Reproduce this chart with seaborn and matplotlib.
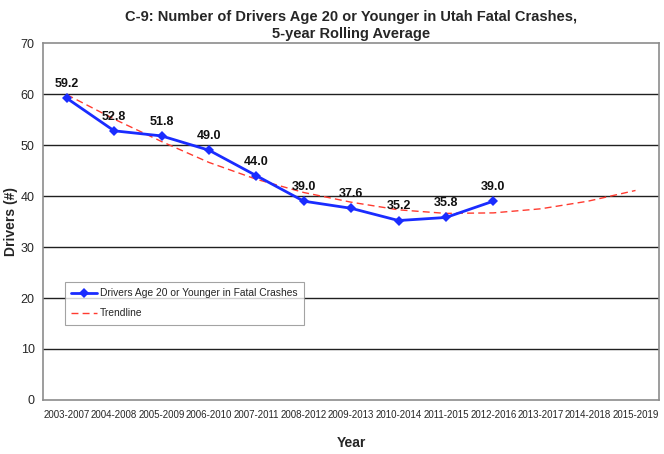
import matplotlib
matplotlib.use("Agg")
import matplotlib.pyplot as plt
import numpy as np
import pandas as pd
import seaborn as sns

# 5-year rolling windows shown on the x axis
periods = ["2003-2007", "2004-2008", "2005-2009", "2006-2010", "2007-2011",
           "2008-2012", "2009-2013", "2010-2014", "2011-2015", "2012-2016",
           "2013-2017", "2014-2018", "2015-2019"]
# observed values (first 10 periods)
drivers = [59.2, 52.8, 51.8, 49.0, 44.0, 39.0, 37.6, 35.2, 35.8, 39.0]
# trendline
trend = [59.9, 55.1, 50.7, 46.6, 43.3, 40.7, 38.8, 37.3, 36.6, 36.7, 37.5, 39.0, 41.1]

sns.set_theme(style="white")
plt.rcParams["font.family"] = ["Liberation Sans", "DejaVu Sans"]

df_obs = pd.DataFrame({"x": np.arange(len(drivers)), "y": drivers})
df_trend = pd.DataFrame({"x": np.arange(len(trend)), "y": trend})

fig = plt.figure(figsize=(6.64, 4.54), dpi=100)
ax = fig.add_axes([0.0648, 0.119, 0.928, 0.786])

# horizontal grid lines
for v in range(10, 70, 10):
    ax.axhline(v, color="#202020", lw=1.0, zorder=1)

sns.lineplot(data=df_trend, x="x", y="y", ax=ax, color="#ff3b30", lw=1.0,
             linestyle=(0, (5, 3)), label="Trendline", zorder=3)
sns.lineplot(data=df_obs, x="x", y="y", ax=ax, color="#1a2cff", lw=2.0,
             marker="D", markersize=5, markeredgewidth=0,
             label="Drivers Age 20 or Younger in Fatal Crashes", zorder=4)

# point labels
for i, v in enumerate(drivers):
    ax.text(i, v + 1.6, f"{v:.1f}", ha="center", va="bottom",
            fontsize=9, fontweight="bold", color="#111111")

ax.set_xlim(-0.5, len(periods) - 0.5)
ax.set_ylim(0, 70)
ax.set_yticks(range(0, 71, 10))
ax.set_xticks(np.arange(len(periods)))
ax.set_xticklabels(periods, fontsize=7)
ax.set_xticks(np.arange(-0.5, len(periods), 1), minor=True)
ax.tick_params(axis="x", which="major", length=0, pad=7)
ax.tick_params(axis="x", which="minor", length=4, width=0.8, color="#808080", direction="out")
ax.tick_params(axis="y", length=4, width=0.8, color="#808080", direction="out",
               labelsize=9, pad=2)

for s in ax.spines.values():
    s.set_color("#8c8c8c")
    s.set_linewidth(1.2)

ax.set_xlabel("Year", fontsize=10, fontweight="bold")
ax.xaxis.set_label_coords(0.5, -0.102)
ax.set_ylabel("Drivers (#)", fontsize=10, fontweight="bold")
ax.yaxis.set_label_coords(-0.041, 0.5)
ax.set_title("C-9: Number of Drivers Age 20 or Younger in Utah Fatal Crashes,\n5-year Rolling Average",
             fontsize=10.5, fontweight="bold", pad=4)

handles, labels = ax.get_legend_handles_labels()
leg = ax.legend(handles[::-1], labels[::-1], loc="upper left",
                bbox_to_anchor=(0.0357, 0.3305), fontsize=7.4, frameon=True,
                fancybox=False, edgecolor="#8c8c8c", handlelength=2.5,
                handletextpad=0.3, borderpad=0.6, labelspacing=1.0,
                borderaxespad=0)
leg.get_frame().set_linewidth(0.8)

fig.savefig("out.png", dpi=100)
